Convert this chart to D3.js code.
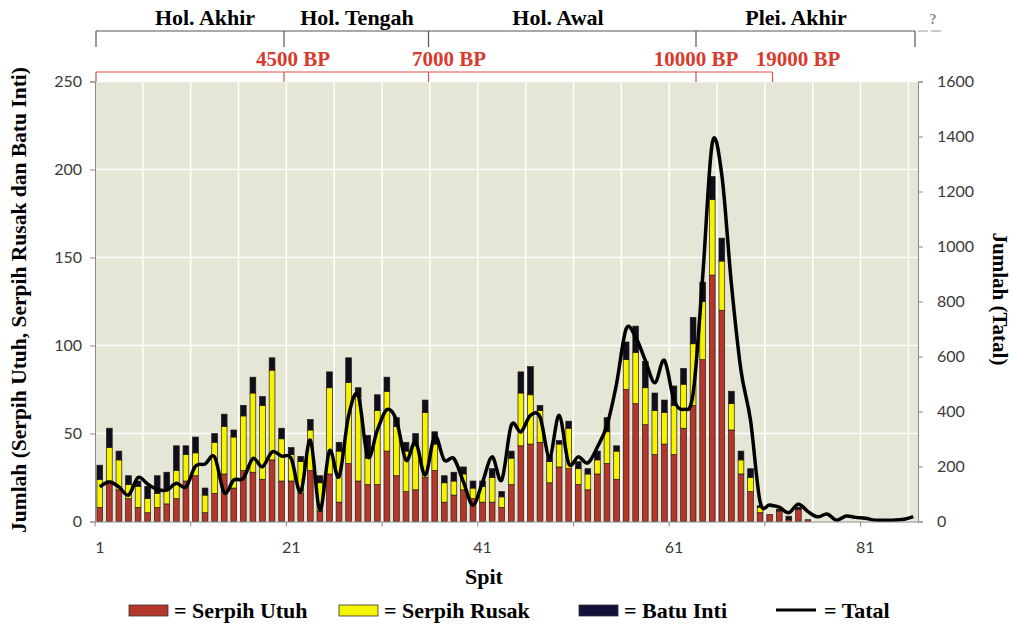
<!DOCTYPE html>
<html><head><meta charset="utf-8">
<script src="https://cdn.jsdelivr.net/npm/d3@7"></script>
<style>
body{margin:0;background:#fff;}
svg{display:block;}
</style></head>
<body>
<svg id="chart" width="1013" height="626"></svg>
<script>
// ---- data ----
const spit = d3.range(1, 87);
const xTickLabels = ["1", "21", "41", "61", "81"];
const leftTicks = [0, 50, 100, 150, 200, 250];
const rightTicks = [0, 200, 400, 600, 800, 1000, 1200, 1400, 1600];
const serpihUtuh = [8,23,18,13,8,5,8,10,13,23, 26,5,16,27,19,29,28,24,35,23,
  23,16,29,6,27,11,33,23,21,21, 40,26,17,18,25,29,11,15,18,13,
  11,11,8,21,43,44,45,22,31,30, 21,18,27,33,24,75,67,55,38,44,
  38,53,66,92,140,120,52,27,17,5, 4,6,1,7,1,0,0,0,0,0, 0,0,0,0,0,0];
const serpihRusak = [16,19,17,8,12,8,8,8,16,15, 13,10,29,27,29,31,45,42,51,24,
  15,18,23,16,49,29,46,48,15,42, 34,28,23,25,37,15,11,8,9,6,
  9,14,6,15,30,28,18,12,13,23, 9,9,8,18,16,17,29,21,25,18,
  28,25,35,33,43,28,15,8,8,3, 0,0,0,0,0,0,0,0,0,0, 0,0,0,0,0,0];
const batuInti = [8,11,5,5,3,7,10,10,14,5, 9,4,5,7,4,6,9,5,7,6,
  4,3,6,4,9,5,14,5,13,9, 8,5,5,7,7,7,4,5,4,4,
  3,5,3,4,12,16,3,4,2,4, 4,3,5,8,3,10,15,15,10,7,
  11,9,15,11,13,13,7,5,5,1, 0,1,2,1,0,0,0,0,0,0, 0,0,0,0,0,0];
const tatal = [126,144,126,96,160,136,117,114,139,126, 201,209,235,105,151,157,229,199,253,238,
  229,108,296,42,257,163,385,459,235,332, 407,368,223,290,169,310,223,229,144,60,
  144,235,151,350,326,386,380,235,386,211, 235,213,271,350,501,700,670,586,505,586,
  441,408,465,890,1375,1260,864,550,368,72, 60,52,32,63,36,17,27,5,20,15, 12,5,5,5,8,18];
const periods = ["Hol. Akhir", "Hol. Tengah", "Hol. Awal", "Plei. Akhir"];
const bpLabels = ["4500 BP", "7000 BP", "10000 BP", "19000 BP"];
const seriesNames = ["Serpih Utuh", "Serpih Rusak", "Batu Inti", "Tatal"];

// ---- layout ----
const svg = d3.select("#chart");
const L = 95, R = 918, T = 81.5, B = 521.5;
const serif = "'Liberation Serif','Times New Roman',serif";
const sans = "Lato, 'Open Sans', sans-serif";
const colors = {utuh: "#b5372c", rusak: "#f4f400", inti: "#0e0e1c"};

const x = d3.scaleBand().domain(spit).range([L, R]).padding(0);
const yL = d3.scaleLinear().domain([0, 250]).range([B, T]);
const yR = d3.scaleLinear().domain([0, 1600]).range([B, T]);

const rows = spit.map((s, i) => ({spit: s, utuh: serpihUtuh[i], rusak: serpihRusak[i], inti: batuInti[i], tatal: tatal[i]}));

// plot background
svg.append("rect").attr("x", L).attr("y", T).attr("width", R - L).attr("height", B - T).attr("fill", "#e5e6d6");

// gridlines
const g = svg.append("g");
leftTicks.filter(v => v > 0).forEach(v => {
  g.append("line").attr("x1", L).attr("x2", R).attr("y1", yL(v)).attr("y2", yL(v))
    .attr("stroke", "#fff").attr("stroke-width", 1.5);
});
spit.filter(s => (s - 1) % 5 === 0 && s > 1).forEach(s => {
  g.append("line").attr("x1", x(s)).attr("x2", x(s)).attr("y1", T).attr("y2", B)
    .attr("stroke", "#fff").attr("stroke-width", 1.5);
});

// bars
const stack = d3.stack().keys(["utuh", "rusak", "inti"]);
const layers = stack(rows);
const bw = x.bandwidth() * 0.6;
svg.append("g").selectAll("g").data(layers).join("g")
  .attr("fill", d => colors[d.key])
  .selectAll("rect").data(d => d.filter(p => p[1] - p[0] > 0)).join("rect")
  .attr("x", d => x(d.data.spit) + (x.bandwidth() - bw) / 2)
  .attr("width", bw)
  .attr("y", d => yL(d[1]))
  .attr("height", d => yL(d[0]) - yL(d[1]))
  .attr("stroke", "#2a1a14").attr("stroke-width", 0.7);

// line
const line = d3.line().x(d => x(d.spit) + x.bandwidth() / 2).y(d => yR(d.tatal)).curve(d3.curveCardinal.tension(0));
svg.append("path").datum(rows).attr("d", line).attr("fill", "none")
  .attr("stroke", "#000").attr("stroke-width", 3.5).attr("stroke-linejoin", "round");

// axes
const axisColor = "#8a8a8a";
const la = svg.append("g").attr("transform", `translate(${L},0)`)
  .call(d3.axisLeft(yL).tickValues(leftTicks).tickSize(5).tickPadding(8));
const ra = svg.append("g").attr("transform", `translate(${R},0)`)
  .call(d3.axisRight(yR).tickValues(rightTicks).tickSize(5).tickPadding(14).tickFormat(d3.format("d")));
const ba = svg.append("g").attr("transform", `translate(0,${B})`)
  .call(d3.axisBottom(x).tickValues(spit.filter(s => (s - 1) % 20 === 0)).tickSize(0).tickPadding(20)
    .tickFormat((d, i) => xTickLabels[i]));
[la, ra, ba].forEach(a => {
  a.select(".domain").attr("stroke", axisColor);
  a.selectAll(".tick line").attr("stroke", axisColor);
  a.selectAll("text").attr("font-family", sans).attr("font-size", 16).attr("fill", "#3a3a3a");
});
// bottom tick marks every 10 spits (at category boundaries)
spit.filter(s => (s - 1) % 10 === 0).forEach(s => {
  svg.append("line").attr("x1", x(s)).attr("x2", x(s)).attr("y1", B).attr("y2", B + 5).attr("stroke", axisColor);
});

// axis titles
svg.append("text").attr("x", 484).attr("y", 584).attr("text-anchor", "middle")
  .attr("font-family", serif).attr("font-weight", "bold").attr("font-size", 22).text("Spit");
svg.append("text").attr("transform", "translate(26,300) rotate(-90)").attr("text-anchor", "middle")
  .attr("font-family", serif).attr("font-weight", "bold").attr("font-size", 21.5)
  .text("Jumlah (Serpih Utuh, Serpih Rusak dan Batu Inti)");
svg.append("text").attr("transform", "translate(993,299) rotate(90)").attr("text-anchor", "middle")
  .attr("font-family", serif).attr("font-weight", "bold").attr("font-size", 21)
  .text("Jumlah (Tatal)");

// header periods
const periodX = [205, 357, 558, 796];
periods.forEach((p, i) => {
  svg.append("text").attr("x", periodX[i]).attr("y", 25).attr("text-anchor", "middle")
    .attr("font-family", serif).attr("font-weight", "bold").attr("font-size", 22).text(p);
});
const brX = [96, 284, 428.5, 696, 915];
svg.append("line").attr("x1", brX[0]).attr("x2", brX[4]).attr("y1", 31).attr("y2", 31).attr("stroke", "#555").attr("stroke-width", 1.2);
brX.forEach(bx => svg.append("line").attr("x1", bx).attr("x2", bx).attr("y1", 31).attr("y2", 47).attr("stroke", "#555").attr("stroke-width", 1.2));
svg.append("line").attr("x1", 918).attr("x2", 944).attr("y1", 31).attr("y2", 31).attr("stroke", "#999").attr("stroke-width", 1.2).attr("stroke-dasharray", "10,3");
svg.append("text").attr("x", 933).attr("y", 24).attr("text-anchor", "middle").attr("font-family", serif)
  .attr("font-weight", "bold").attr("font-size", 14).attr("fill", "#888").text("?");

// BP markers
const bpX = [293, 449, 696, 798];
bpLabels.forEach((b, i) => {
  svg.append("text").attr("x", bpX[i]).attr("y", 66).attr("text-anchor", "middle")
    .attr("font-family", serif).attr("font-weight", "bold").attr("font-size", 21).attr("fill", "#d83a2c").text(b);
});
const redX = [96, 284, 428.5, 696, 772.5];
svg.append("line").attr("x1", redX[0]).attr("x2", redX[4]).attr("y1", 72).attr("y2", 72).attr("stroke", "#d9534a").attr("stroke-width", 1.2);
redX.forEach(rx => svg.append("line").attr("x1", rx).attr("x2", rx).attr("y1", 72).attr("y2", 82).attr("stroke", "#d9534a").attr("stroke-width", 1.2));

// legend
const lg = svg.append("g").attr("font-family", serif).attr("font-weight", "bold").attr("font-size", 22);
const swX = [129, 339, 579];
const swC = [colors.utuh, colors.rusak, "#10103a"];
swX.forEach((sx, i) => {
  lg.append("rect").attr("x", sx).attr("y", 605).attr("width", 39).attr("height", 11).attr("fill", swC[i]).attr("stroke", "#333").attr("stroke-width", 0.8);
  lg.append("text").attr("x", sx + 45).attr("y", 618).text("= " + seriesNames[i]);
});
lg.append("line").attr("x1", 776).attr("x2", 816).attr("y1", 610).attr("y2", 610).attr("stroke", "#000").attr("stroke-width", 3);
lg.append("text").attr("x", 824).attr("y", 618).text("= " + seriesNames[3]);
</script>
</body></html>
